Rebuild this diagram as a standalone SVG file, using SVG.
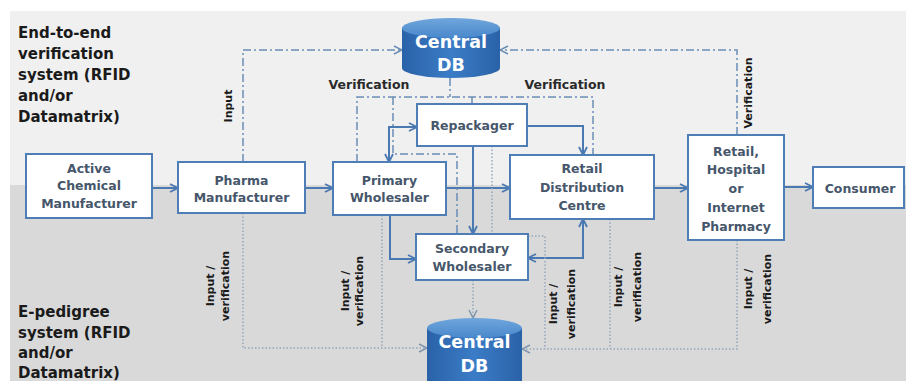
<svg xmlns="http://www.w3.org/2000/svg" width="906" height="381" viewBox="0 0 906 381">
<style>
.hd{font-family:"DejaVu Sans","Liberation Sans",sans-serif;font-weight:bold;font-size:15px;fill:#1a1a1a}
.nt{font-family:"DejaVu Sans","Liberation Sans",sans-serif;font-weight:bold;font-size:12.5px;fill:#46566b;text-anchor:middle}
.db{font-family:"DejaVu Sans","Liberation Sans",sans-serif;font-weight:bold;font-size:17.5px;fill:#ffffff;text-anchor:middle}
.lb{font-family:"DejaVu Sans","Liberation Sans",sans-serif;font-weight:bold;font-size:11px;fill:#1a1a1a;text-anchor:middle}
.lh{font-family:"DejaVu Sans","Liberation Sans",sans-serif;font-weight:bold;font-size:12.5px;fill:#2a2a2a;text-anchor:middle}
.box{fill:#ffffff;stroke:#4f7db5;stroke-width:2}
.sol{fill:none;stroke:#4a78b0;stroke-width:2}
.dd{fill:none;stroke:#6a8db5;stroke-width:1.5;stroke-dasharray:8 3 2 3}
.dt{fill:none;stroke:#95a7ba;stroke-width:1.5;stroke-dasharray:1.5 2}
</style>
<defs>
<marker id="as" viewBox="0 0 10 10" refX="9" refY="5" markerWidth="10" markerHeight="10" markerUnits="userSpaceOnUse" orient="auto-start-reverse"><path d="M1,1 L9,5 L1,9" fill="none" stroke="#4a78b0" stroke-width="1.8"/></marker>
<marker id="ad" viewBox="0 0 10 10" refX="9" refY="5" markerWidth="10" markerHeight="10" markerUnits="userSpaceOnUse" orient="auto-start-reverse"><path d="M1,1 L9,5 L1,9" fill="none" stroke="#6a8db5" stroke-width="1.5"/></marker>
<marker id="at" viewBox="0 0 10 10" refX="9" refY="5" markerWidth="10" markerHeight="10" markerUnits="userSpaceOnUse" orient="auto-start-reverse"><path d="M1,1 L9,5 L1,9" fill="none" stroke="#7f95ad" stroke-width="1.5"/></marker>
<linearGradient id="cyl" x1="0" y1="0" x2="1" y2="0">
<stop offset="0" stop-color="#2a62a8"/><stop offset="0.5" stop-color="#3b7cc6"/><stop offset="1" stop-color="#2a62a8"/>
</linearGradient>
<linearGradient id="cyltop" x1="0" y1="0" x2="0" y2="1">
<stop offset="0" stop-color="#6fa6dc"/><stop offset="1" stop-color="#4a88cc"/>
</linearGradient>
</defs>
<rect x="0" y="0" width="906" height="381" fill="#ffffff"/>
<rect x="10" y="11" width="896" height="174" fill="#f0f0f0"/>
<rect x="10" y="185" width="896" height="196" fill="#d9d9d9"/>

<g id="labels">
<text class="hd" x="18" y="38">End-to-end</text>
<text class="hd" x="18" y="59">verification</text>
<text class="hd" x="18" y="80">system (RFID</text>
<text class="hd" x="18" y="101">and/or</text>
<text class="hd" x="18" y="122">Datamatrix)</text>
<text class="hd" x="18" y="317">E-pedigree</text>
<text class="hd" x="18" y="338">system (RFID</text>
<text class="hd" x="18" y="358">and/or</text>
<text class="hd" x="18" y="378">Datamatrix)</text>
</g>

<g id="connectors">
<path class="sol" d="M152,188 H178" marker-end="url(#as)"/>
<path class="sol" d="M305,188 H333" marker-end="url(#as)"/>
<path class="sol" d="M446,188 H510" marker-end="url(#as)"/>
<path class="sol" d="M654,188 H688" marker-end="url(#as)"/>
<path class="sol" d="M784,187 H813" marker-end="url(#as)"/>
<path class="sol" d="M417,127 H389 V162" marker-start="url(#as)" marker-end="url(#as)"/>
<path class="sol" d="M527,126 H583 V155" marker-end="url(#as)"/>
<path class="sol" d="M473,146 V234" marker-end="url(#as)"/>
<path class="sol" d="M390,215 V259 H416" marker-end="url(#as)"/>
<path class="sol" d="M528,258 H583 V219" marker-start="url(#as)" marker-end="url(#as)"/>

<path class="dd" d="M243,162 V50 H402" marker-end="url(#ad)"/>
<path class="dd" d="M737,135 V50 H500" marker-end="url(#ad)"/>
<path class="dd" d="M450,78 V97"/>
<path class="dd" d="M357,162 V97 H593 V155"/>
<path class="dd" d="M393,97 V154 H457 V234"/>
<path class="dd" d="M472,97 V104"/>

<path class="dt" d="M492,146 V234"/>
<path class="dt" d="M473,280 V318" marker-end="url(#at)"/>
<path class="dt" d="M243,213 V348 H427" marker-end="url(#at)"/>
<path class="dt" d="M382,215 V348"/>
<path class="dt" d="M737,240 V349 H522" marker-end="url(#at)"/>
<path class="dt" d="M610,219 V349"/>
<path class="dt" d="M528,236 H545 V349"/>

<text class="lb" transform="translate(232,106) rotate(-90)">Input</text>
<text class="lb" transform="translate(752,93) rotate(-90)">Verification</text>
<text class="lh" x="369" y="89">Verification</text>
<text class="lh" x="565" y="89">Verification</text>
<text class="lb" transform="translate(214,286) rotate(-90)"><tspan x="0" y="0">Input /</tspan><tspan x="0" y="15">verification</tspan></text>
<text class="lb" transform="translate(349,291) rotate(-90)"><tspan x="0" y="0">Input /</tspan><tspan x="0" y="14">verification</tspan></text>
<text class="lb" transform="translate(557,304) rotate(-90)"><tspan x="0" y="0">Input /</tspan><tspan x="0" y="18">verification</tspan></text>
<text class="lb" transform="translate(622,287) rotate(-90)"><tspan x="0" y="0">Input /</tspan><tspan x="0" y="19">verification</tspan></text>
<text class="lb" transform="translate(752,289) rotate(-90)"><tspan x="0" y="0">Input /</tspan><tspan x="0" y="19">verification</tspan></text>
</g>

<g id="db-top">
<path d="M402,28 V68 A49,10 0 0 0 500,68 V28 Z" fill="url(#cyl)"/>
<ellipse cx="451" cy="28" rx="49" ry="10" fill="url(#cyltop)"/>
<text class="db" x="451" y="48">Central</text>
<text class="db" x="451" y="71">DB</text>
</g>
<g id="db-bottom">
<path d="M427,328 V395 H522 V328 Z" fill="url(#cyl)"/>
<ellipse cx="474.5" cy="328" rx="47.5" ry="10" fill="url(#cyltop)"/>
<text class="db" x="474.5" y="348">Central</text>
<text class="db" x="474.5" y="372">DB</text>
</g>

<g id="active-chemical">
<rect class="box" x="26" y="154" width="126" height="64"/>
<text class="nt" x="89" y="173">Active</text>
<text class="nt" x="89" y="190">Chemical</text>
<text class="nt" x="89" y="208">Manufacturer</text>
</g>
<g id="pharma">
<rect class="box" x="178" y="162" width="127" height="51"/>
<text class="nt" x="241.5" y="185">Pharma</text>
<text class="nt" x="241.5" y="202">Manufacturer</text>
</g>
<g id="primary">
<rect class="box" x="333" y="162" width="113" height="53"/>
<text class="nt" x="389.5" y="185">Primary</text>
<text class="nt" x="389.5" y="202">Wholesaler</text>
</g>
<g id="repackager">
<rect class="box" x="417" y="104" width="110" height="42"/>
<text class="nt" x="472" y="130">Repackager</text>
</g>
<g id="retail-distribution">
<rect class="box" x="510" y="155" width="144" height="64"/>
<text class="nt" x="582" y="173">Retail</text>
<text class="nt" x="582" y="192">Distribution</text>
<text class="nt" x="582" y="210">Centre</text>
</g>
<g id="secondary">
<rect class="box" x="416" y="234" width="112" height="46"/>
<text class="nt" x="472" y="253">Secondary</text>
<text class="nt" x="472" y="271">Wholesaler</text>
</g>
<g id="retail-hospital">
<rect class="box" x="688" y="135" width="96" height="105"/>
<text class="nt" x="736" y="156">Retail,</text>
<text class="nt" x="736" y="174">Hospital</text>
<text class="nt" x="736" y="193">or</text>
<text class="nt" x="736" y="212">Internet</text>
<text class="nt" x="736" y="231">Pharmacy</text>
</g>
<g id="consumer">
<rect class="box" x="813" y="167" width="91" height="41"/>
<text class="nt" x="860" y="193">Consumer</text>
</g>
</svg>
